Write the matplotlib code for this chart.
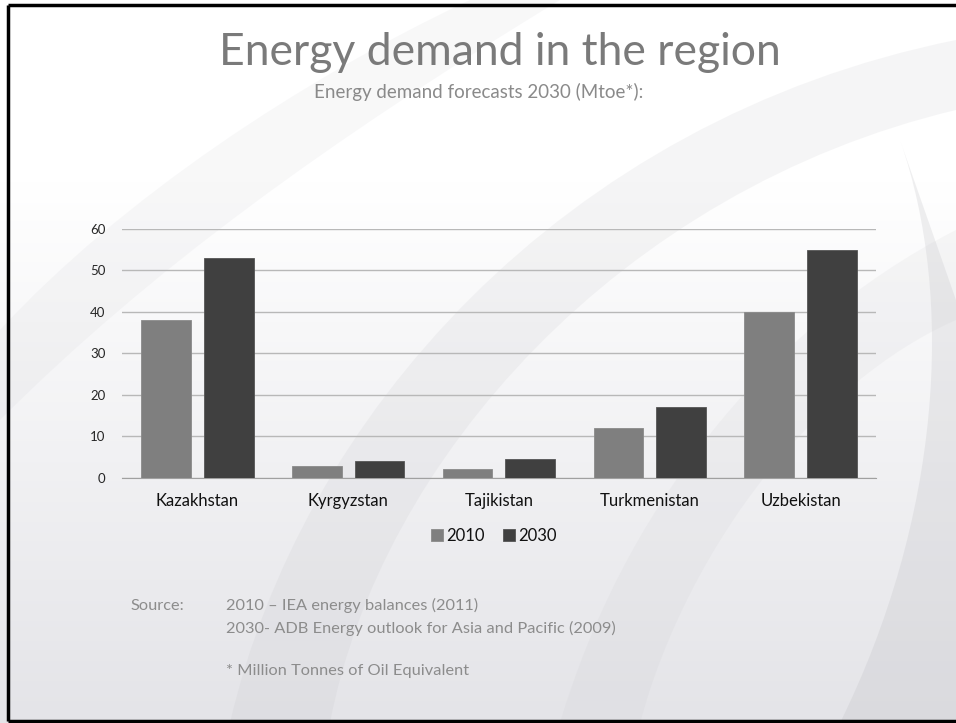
import numpy as np
import matplotlib.pyplot as plt
from matplotlib.path import Path
from matplotlib.patches import PathPatch
from matplotlib.colors import LinearSegmentedColormap

plt.rcParams['font.family'] = ['Lato', 'DejaVu Sans']

countries = ['Kazakhstan', 'Kyrgyzstan', 'Tajikistan', 'Turkmenistan', 'Uzbekistan']
demand_2010 = [38, 2.8, 2.1, 12, 40]
demand_2030 = [53, 4.1, 4.6, 17, 55]
series_names = ['2010', '2030']
y_ticks = [0, 10, 20, 30, 40, 50, 60]

c2010 = '#7f7f7f'
c2030 = '#404040'
text_grey = '#8c8c8c'

fig = plt.figure(figsize=(9.56, 7.23), dpi=100)

# slide background: white to light grey, with soft swoosh bands
bg = fig.add_axes([0, 0, 1, 1], zorder=0)
bg.set_xlim(0, 956)
bg.set_ylim(723, 0)
bg.axis('off')
grad = np.linspace(0, 1, 256)[:, None]
grad = np.clip((grad - 0.25) / 0.75, 0, 1)
bg.imshow(grad, cmap=LinearSegmentedColormap.from_list('slide', ['#ffffff', '#e4e4e8']),
          extent=[0, 956, 723, 0], aspect='auto')


def band(p_outer, p_inner, color, alpha):
    verts = p_outer + p_inner[::-1] + [p_outer[0]]
    codes = ([Path.MOVETO] + [Path.CURVE4] * (len(p_outer) - 1)
             + [Path.LINETO] + [Path.CURVE4] * (len(p_inner) - 1) + [Path.CLOSEPOLY])
    bg.add_patch(PathPatch(Path(verts, codes), fc=color, ec='none', alpha=alpha))


band([(230, 723), (300, 420), (560, 120), (956, 40)],
     [(330, 723), (380, 460), (620, 190), (956, 110)], '#bdbdc2', 0.14)
band([(0, 330), (120, 200), (300, 80), (470, 0)],
     [(0, 420), (150, 270), (330, 140), (560, 0)], '#c8c8cc', 0.12)
band([(840, 723), (940, 520), (956, 300), (900, 140)],
     [(956, 723), (956, 620), (956, 500), (956, 300)], '#b8b8bd', 0.22)
band([(560, 723), (620, 520), (760, 330), (956, 230)],
     [(640, 723), (690, 540), (820, 380), (956, 320)], '#c4c4c8', 0.12)

# slide border
bg.plot([8, 956], [5, 5], color='black', lw=2.5, solid_capstyle='butt')
bg.plot([8, 8], [5, 721], color='black', lw=2.5, solid_capstyle='butt')
bg.plot([8, 956], [721, 721], color='black', lw=2.5, solid_capstyle='butt')

ax = fig.add_axes([0.1276, 0.3389, 0.7887, 0.3446], zorder=2)
ax.patch.set_alpha(0)

x = np.arange(len(countries))
w = 0.33
off = 0.208
ax.bar(x - off, demand_2010, w, color=c2010, label=series_names[0], zorder=3,
       edgecolor='#8a8a8a', linewidth=0.6)
ax.bar(x + off, demand_2030, w, color=c2030, label=series_names[1], zorder=3,
       edgecolor='#555555', linewidth=0.6)

ax.set_xlim(-0.5, len(countries) - 0.5)
ax.set_ylim(0, 60)
ax.set_yticks(y_ticks)
ax.set_yticklabels([str(t) for t in y_ticks], fontsize=9.5, color='#262626')
ax.set_xticks(x)
ax.set_xticklabels(countries, fontsize=12, color='#111111')
ax.tick_params(axis='both', length=0)
ax.tick_params(axis='x', pad=11)
ax.tick_params(axis='y', pad=12)
ax.yaxis.grid(True, color='#b8b8b8', linewidth=1, zorder=1)
ax.set_axisbelow(True)
for s in ['top', 'right', 'left']:
    ax.spines[s].set_visible(False)
ax.spines['bottom'].set_color('#a0a0a0')

ax.legend(loc='center', bbox_to_anchor=(0.493, -0.233), ncol=2, frameon=False,
          fontsize=12, handlelength=0.7, handleheight=0.7, handletextpad=0.2,
          columnspacing=1.1, labelcolor='#111111')

fig.text(0.523, 0.928, 'Energy demand in the region', ha='center', va='center',
         fontsize=32, color='#7a7a7a')
fig.text(0.501, 0.873, 'Energy demand forecasts 2030 (Mtoe*):', ha='center', va='center',
         fontsize=13.5, color='#8a8a8a')

fig.text(0.136, 0.162, 'Source:', ha='left', va='center', fontsize=11.8, color=text_grey)
fig.text(0.236, 0.162, '2010 \u2013 IEA energy balances (2011)', ha='left', va='center',
         fontsize=11.8, color=text_grey)
fig.text(0.236, 0.131, '2030- ADB Energy outlook for Asia and Pacific (2009)', ha='left',
         va='center', fontsize=11.8, color=text_grey)
fig.text(0.236, 0.072, '* Million Tonnes of Oil Equivalent', ha='left', va='center',
         fontsize=11.8, color=text_grey)

fig.savefig('out.png', dpi=100)
